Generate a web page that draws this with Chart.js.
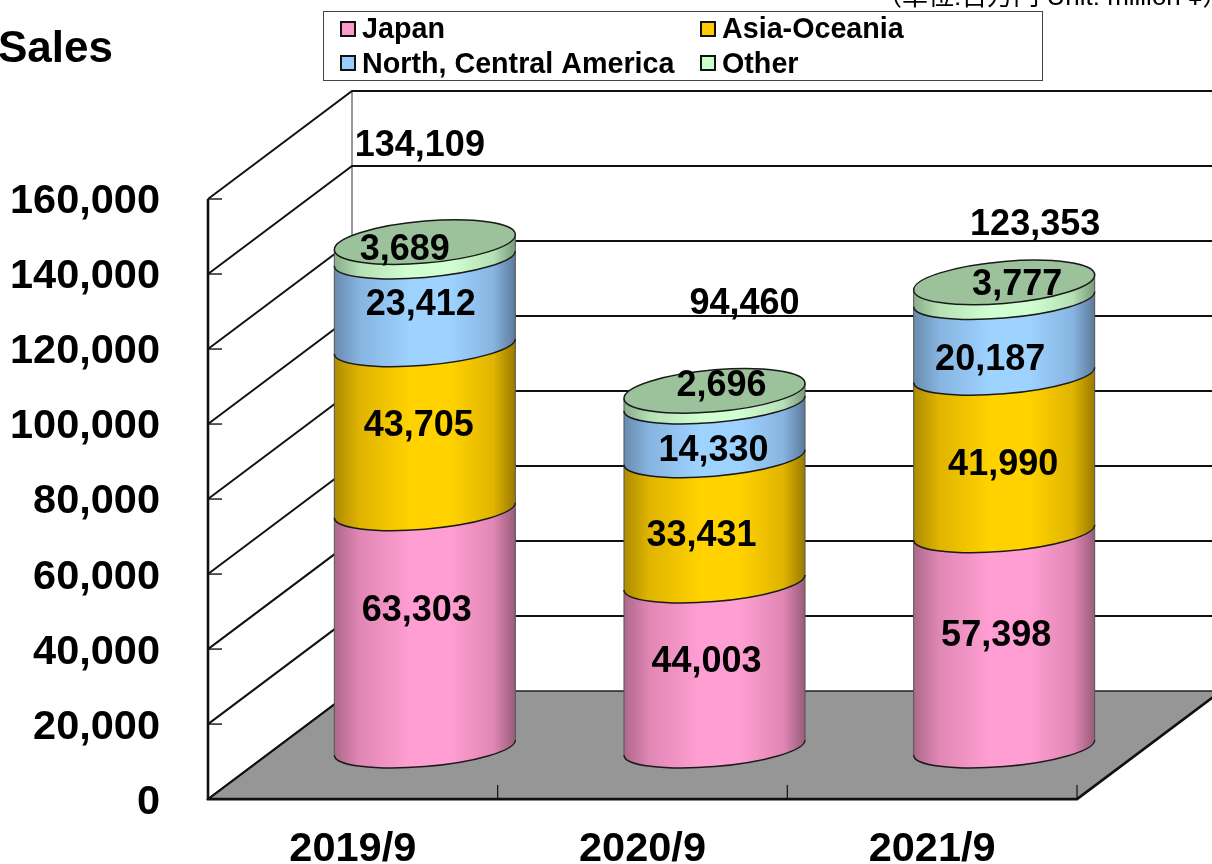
<!DOCTYPE html>
<html><head><meta charset="utf-8">
<style>html,body{margin:0;padding:0;background:#fff;overflow:hidden;height:864px}canvas{display:block}</style>
<script src="https://cdn.jsdelivr.net/npm/chart.js@4"></script>
</head><body><canvas id="c" width="1212" height="872"></canvas>
<script>
const categories = ['2019/9', '2020/9', '2021/9'];
const japan = [63303, 44003, 57398];
const asiaOceania = [43705, 33431, 41990];
const northCentralAmerica = [23412, 14330, 20187];
const other = [3689, 2696, 3777];
const totals = ['134,109', '94,460', '123,353'];
const titleText = 'Sales';
const unitText = '（単位:百万円 Unit: million ¥）';

// label placement, relative to the middle of each segment [dx, dy]
const nudges = [
  [[-8,-18],[-8,-3],[-8,-4]],
  [[-6,-2],[-13,16],[-1,12]],
  [[-4,3],[-1,21],[-14,23]],
  [[-20,-1],[7,-12],[13,-7]]
];
const totalNudges = [[-5,-99],[30,-89],[31,-60]];
const TEXT_MID = 2.5;

const DX = 144, DY = -108, RY_CAP = 21, RY = 19, SKEW = 7.5, BAND_DROP = 2.5;
const FONT = '"Liberation Sans", Arial, sans-serif';
const fmt = v => v.toLocaleString('en-US');
function shade(c, f){ return 'rgb(' + c.map(v => Math.min(255, Math.round(v * f))).join(',') + ')'; }
const rgb = [[255,153,204],[255,204,0],[153,204,255],[204,255,204]];

const cylinder3d = {
  id: 'cylinder3d',
  beforeDatasetsDraw(chart) {
    const {ctx, chartArea: a, scales: {x, y}} = chart;
    const y0 = y.getPixelForValue(0);
    const lastIndex = chart.data.datasets.length - 1;
    ctx.save();
    // floor
    ctx.fillStyle = '#969696';
    ctx.beginPath();
    ctx.moveTo(a.left, y0); ctx.lineTo(a.right, y0);
    ctx.lineTo(a.right + DX, y0 + DY); ctx.lineTo(a.left + DX, y0 + DY);
    ctx.closePath(); ctx.fill();
    ctx.strokeStyle = '#222'; ctx.lineWidth = 1.5; ctx.stroke();
    // back wall vertical edge
    ctx.strokeStyle = '#999'; ctx.lineWidth = 2;
    ctx.beginPath();
    ctx.moveTo(a.left + DX, a.top + DY); ctx.lineTo(a.left + DX, y0 + DY); ctx.stroke();
    // gridlines on side wall and back wall
    ctx.strokeStyle = '#111'; ctx.lineWidth = 2;
    y.ticks.forEach(t => {
      const p = y.getPixelForValue(t.value);
      ctx.beginPath();
      ctx.moveTo(a.left, p); ctx.lineTo(a.left + DX, p + DY);
      if (t.value !== 0) ctx.lineTo(a.right + DX, p + DY);
      ctx.stroke();
      ctx.lineWidth = 1.4;
      ctx.beginPath(); ctx.moveTo(a.left, p); ctx.lineTo(a.left + 14, p); ctx.stroke();
      ctx.lineWidth = 2;
    });
    // front axes
    ctx.lineWidth = 2.6; ctx.strokeStyle = '#111';
    ctx.beginPath();
    ctx.moveTo(a.left, a.top); ctx.lineTo(a.left, y0); ctx.lineTo(a.right, y0); ctx.lineTo(a.right + DX, y0 + DY);
    ctx.stroke();
    ctx.lineWidth = 1.2;
    categories.forEach((c, i) => {
      const px = a.left + (a.right - a.left) * (i + 1) / categories.length;
      ctx.beginPath(); ctx.moveTo(px, y0); ctx.lineTo(px, y0 - 14); ctx.stroke();
    });
    // cylinders, bottom segment upwards
    chart.data.datasets.forEach((ds, di) => {
      chart.getDatasetMeta(di).data.forEach(bar => {
        const isTop = di === lastIndex;
        const rx = bar.width / 2, cx = bar.x + DX / 2;
        const yb = bar.base + DY / 2 + BAND_DROP;
        const yt = bar.y + DY / 2 + (isTop ? 0 : BAND_DROP);
        const ryTop = isTop ? RY_CAP : RY;
        ctx.save();
        ctx.transform(1, -SKEW / rx, 0, 1, cx, 0);
        const g = ctx.createLinearGradient(-rx, 0, rx, 0);
        const c = rgb[di];
        g.addColorStop(0, shade(c, .68)); g.addColorStop(.14, shade(c, .88));
        g.addColorStop(.42, shade(c, 1.03)); g.addColorStop(.64, shade(c, 1.03));
        g.addColorStop(.88, shade(c, .88)); g.addColorStop(1, shade(c, .6));
        ctx.beginPath();
        ctx.ellipse(0, yb, rx, RY, 0, Math.PI, 0, true);
        ctx.lineTo(rx, yt);
        ctx.ellipse(0, yt, rx, ryTop, 0, 0, Math.PI, false);
        ctx.closePath();
        ctx.fillStyle = g; ctx.fill();
        ctx.strokeStyle = '#555'; ctx.lineWidth = 1;
        ctx.beginPath(); ctx.moveTo(-rx, yb); ctx.lineTo(-rx, yt); ctx.moveTo(rx, yb); ctx.lineTo(rx, yt); ctx.stroke();
        ctx.strokeStyle = '#1a1a1a'; ctx.lineWidth = 1.5;
        ctx.beginPath(); ctx.ellipse(0, yb, rx, RY, 0, Math.PI, 0, true); ctx.stroke();
        if (isTop) {
          ctx.beginPath(); ctx.ellipse(0, yt, rx, ryTop, 0, 0, Math.PI * 2);
          ctx.fillStyle = shade(c, .76); ctx.fill(); ctx.stroke();
        }
        ctx.restore();
      });
    });
    ctx.restore();
    return false;
  },
  afterDraw(chart) {
    const {ctx} = chart;
    ctx.save();
    ctx.fillStyle = '#000'; ctx.textAlign = 'center'; ctx.textBaseline = 'middle';
    ctx.font = 'bold 36px ' + FONT;
    chart.data.datasets.forEach((ds, di) => {
      chart.getDatasetMeta(di).data.forEach((bar, i) => {
        const n = nudges[di][i];
        ctx.fillText(fmt(ds.data[i]), bar.x + DX / 2 + n[0], (bar.y + bar.base) / 2 + DY / 2 + n[1] + TEXT_MID);
      });
    });
    const lastMeta = chart.getDatasetMeta(chart.data.datasets.length - 1);
    lastMeta.data.forEach((bar, i) => {
      ctx.fillText(totals[i], bar.x + DX / 2 + totalNudges[i][0], bar.y + DY / 2 + totalNudges[i][1] + TEXT_MID);
    });
    // title and unit note
    ctx.textBaseline = 'alphabetic'; ctx.textAlign = 'left';
    ctx.font = 'bold 44px ' + FONT;
    ctx.fillText(titleText, -2, 62);
    ctx.font = '26px ' + FONT + ', "Noto Sans CJK JP"';
    ctx.fillText(unitText, 876, 5);
    // legend
    ctx.fillStyle = '#fff'; ctx.strokeStyle = '#444'; ctx.lineWidth = 1;
    ctx.fillRect(323.5, 11.5, 719, 69); ctx.strokeRect(323.5, 11.5, 719, 69);
    const order = [0, 1, 2, 3], lx = [340, 700], ly = [21, 55];
    ctx.font = 'bold 28.7px ' + FONT;
    order.forEach((di, k) => {
      const col = k % 2, row = k >> 1;
      ctx.fillStyle = shade(rgb[di], 1); ctx.strokeStyle = '#111'; ctx.lineWidth = 2;
      ctx.fillRect(lx[col] + 1, ly[row] + 1, 14, 14); ctx.strokeRect(lx[col] + 1, ly[row] + 1, 14, 14);
      ctx.fillStyle = '#000';
      ctx.fillText(chart.data.datasets[di].label, lx[col] + 22, ly[row] + 17 + row);
    });
    ctx.restore();
  }
};

new Chart(document.getElementById('c'), {
  type: 'bar',
  data: {
    labels: categories,
    datasets: [
      {label: 'Japan', data: japan, backgroundColor: '#ff99cc'},
      {label: 'Asia-Oceania', data: asiaOceania, backgroundColor: '#ffcc00'},
      {label: 'North, Central America', data: northCentralAmerica, backgroundColor: '#99ccff'},
      {label: 'Other', data: other, backgroundColor: '#ccffcc'}
    ]
  },
  options: {
    responsive: false, animation: false,
    layout: {autoPadding: false, padding: {left: 0, right: 135, top: 199, bottom: 0}},
    datasets: {bar: {barPercentage: 0.625, categoryPercentage: 1}},
    plugins: {legend: {display: false}, tooltip: {enabled: false}, title: {display: false}},
    scales: {
      x: {
        stacked: true,
        grid: {display: false, drawTicks: false}, border: {display: false},
        ticks: {color: '#000', font: {family: FONT, size: 41.5, weight: 'bold'}, padding: 26, maxRotation: 0},
        afterFit(s) { s.height = 65; }
      },
      y: {
        stacked: true, min: 0, max: 160000,
        grid: {display: false, drawTicks: false}, border: {display: false},
        ticks: {color: '#000', stepSize: 20000, font: {family: FONT, size: 41.5, weight: 'bold'}, padding: 48, labelOffset: 3,
          callback: v => fmt(v)},
        afterFit(s) { s.width = 208; }
      }
    }
  },
  plugins: [cylinder3d]
});
</script></body></html>
